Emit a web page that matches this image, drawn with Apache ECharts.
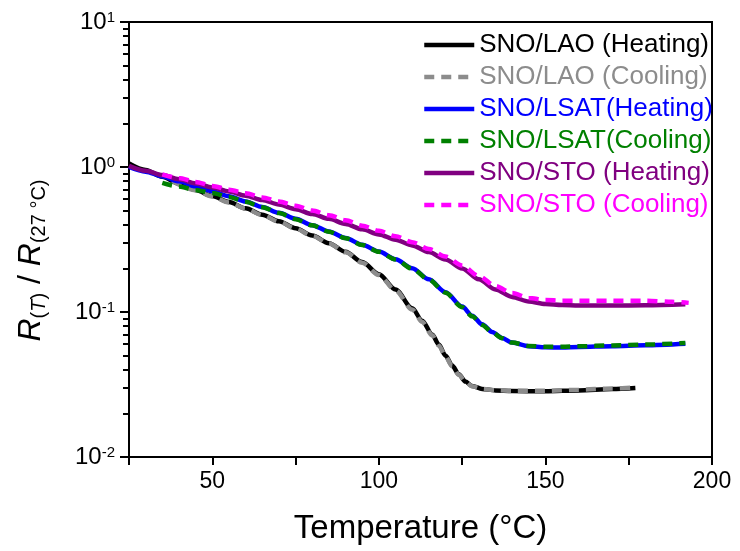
<!DOCTYPE html>
<html><head><meta charset="utf-8">
<script src="https://cdn.jsdelivr.net/npm/echarts@6/dist/echarts.min.js"></script>
<style>html,body{margin:0;padding:0;background:#fff}#c{width:740px;height:551px}</style>
</head><body><div id="c"></div>
<script>
// ---- data ----
const seriesNames = ['SNO/LAO (Heating)','SNO/LAO (Cooling)','SNO/LSAT(Heating)','SNO/LSAT(Cooling)','SNO/STO (Heating)','SNO/STO (Cooling)'];
const seriesColors = ['#000000','#8c8c8c','#0000ff','#008000','#800080','#ff00ff'];
const seriesDashed = [false,true,false,true,false,true];

const T_LAO_H = [25,30,35,40,45,50,55,60,65,70,75,80,85,90,95,100,105,110,113,116,118,120,122,124,126,128,131,135,140,150,160,170,177];
const R_LAO_H = [1.059,0.955,0.855,0.769,0.695,0.631,0.573,0.519,0.469,0.422,0.378,0.337,0.2985,0.260,0.221,0.182,0.143,0.106,0.0871,0.070,0.0596,0.0501,0.0427,0.0372,0.0331,0.0309,0.0295,0.0288,0.0285,0.0284,0.0288,0.0294,0.0299];

const T_LAO_C = [38,45,50,55,60,65,70,75,80,85,90,95,100,105,110,113,116,118,120,122,124,126,128,131,135,140,150,160,170,177];
const R_LAO_C = [0.80,0.69,0.627,0.57,0.516,0.466,0.42,0.376,0.335,0.297,0.258,0.219,0.180,0.141,0.104,0.0855,0.069,0.0588,0.0495,0.0423,0.0369,0.0330,0.0308,0.0295,0.0289,0.0286,0.0286,0.0291,0.0297,0.0302];

const T_LSAT_H = [25,30,35,40,45,50,55,60,65,70,75,80,85,90,95,100,105,110,115,120,125,128,131,134,137,140,145,150,155,160,170,180,192];
const R_LSAT_H = [1.0,0.929,0.861,0.796,0.736,0.681,0.628,0.578,0.530,0.483,0.439,0.397,0.359,0.324,0.291,0.261,0.231,0.200,0.168,0.137,0.109,0.0944,0.0822,0.0729,0.0662,0.0615,0.0581,0.0571,0.0569,0.0574,0.0581,0.0589,0.0603];

const T_LSAT_C = [35,40,45,50,55,60,65,70,75,80,85,90,95,100,105,110,115,120,125,128,131,134,137,140,145,150,155,160,170,180,192];
const R_LSAT_C = [0.776,0.733,0.695,0.661,0.621,0.575,0.528,0.481,0.437,0.396,0.358,0.323,0.290,0.260,0.230,0.199,0.167,0.136,0.108,0.0935,0.0815,0.0725,0.066,0.0615,0.0583,0.0575,0.0575,0.058,0.0588,0.0596,0.0612];

const T_STO_H = [25,30,35,40,45,50,55,60,65,70,75,80,85,90,95,100,105,110,115,120,125,130,135,140,145,150,155,160,170,180,192];
const R_STO_H = [1.019,0.942,0.879,0.822,0.771,0.723,0.678,0.634,0.592,0.551,0.512,0.474,0.439,0.405,0.372,0.343,0.315,0.288,0.259,0.230,0.1995,0.168,0.143,0.127,0.118,0.1135,0.1117,0.1109,0.1107,0.1114,0.1132];

const T_STO_C = [35,40,45,50,55,60,65,70,75,80,85,90,95,100,105,110,115,120,125,130,135,140,145,150,155,160,170,180,188,193];
const R_STO_C = [0.891,0.839,0.789,0.741,0.698,0.658,0.617,0.578,0.540,0.501,0.465,0.429,0.394,0.363,0.333,0.303,0.272,0.2415,0.209,0.177,0.151,0.135,0.125,0.121,0.1197,0.1197,0.1197,0.1197,0.1175,0.1156];

const xTickLabels = [50,100,150,200];
const yMinorTickValues = [];
[0.01,0.1,1].forEach(function(d){ for (let m=2;m<=9;m++) yMinorTickValues.push(+(m*d).toPrecision(3)); });

// ---- chart ----
const FONT = 'Liberation Sans, Arial, sans-serif';
const allT = [T_LAO_H,T_LAO_C,T_LSAT_H,T_LSAT_C,T_STO_H,T_STO_C];
const allR = [R_LAO_H,R_LAO_C,R_LSAT_H,R_LSAT_C,R_STO_H,R_STO_C];

const lineSeries = seriesNames.map(function(name,i){
  return {
    name: name, type: 'line', yAxisIndex: 0, symbol: 'none', showSymbol: false, smooth: 0.3, smoothMonotone: 'x',
    data: allT[i].map(function(t,j){ return [t, allR[i][j]]; }),
    lineStyle: {color: seriesColors[i], width: 4.5, type: seriesDashed[i] ? [10,7] : 'solid'},
    itemStyle: {color: seriesColors[i]},
    z: 3 + i
  };
});

const chart = echarts.init(document.getElementById('c'), null, {renderer:'canvas'});
chart.setOption({
  animation: false,
  backgroundColor: '#fff',
  textStyle: {fontFamily: FONT},
  grid: {left: 129, right: 28, top: 22, bottom: 94, show: true, borderColor: '#000', borderWidth: 2, backgroundColor: 'transparent'},
  legend: {
    orient: 'vertical', left: 417, top: 27, itemWidth: 50, itemHeight: 14, itemGap: 6,
    itemStyle: {opacity: 0},
    lineStyle: {width: 4.5},
    textStyle: {fontSize: 26, lineHeight: 26, fontFamily: FONT},
    data: seriesNames.map(function(n,i){ return {name: n, textStyle: {color: seriesColors[i]}}; })
  },
  xAxis: {
    type: 'value', min: 25, max: 200, interval: 25,
    name: 'Temperature (°C)', nameLocation: 'middle', nameGap: 55,
    nameTextStyle: {fontSize: 33, color: '#000', fontFamily: FONT},
    axisLine: {show: true, lineStyle: {color: '#000', width: 2}},
    axisTick: {show: true, length: 8, lineStyle: {color: '#000', width: 2}},
    splitLine: {show: false},
    axisLabel: {fontSize: 23, color: '#000', margin: 13, fontFamily: FONT,
      formatter: function(v){ return xTickLabels.indexOf(v) >= 0 ? String(v) : ''; }}
  },
  yAxis: [{
    type: 'log', logBase: 10, min: 0.01, max: 10,
    name: '{ri|R}{sub|(}{subi|T}{sub|)}{sl| / }{ri|R}{sub|(27 °C)}',
    nameLocation: 'middle', nameRotate: 90, nameGap: 80,
    nameTextStyle: {
      color: '#000', fontFamily: FONT, padding: [0, 42, 0, 0],
      rich: {
        ri: {fontSize: 32, fontStyle: 'italic', fontFamily: FONT, lineHeight: 34, verticalAlign: 'top', padding: [0,0,15,0]},
        sl: {fontSize: 32, fontFamily: FONT, lineHeight: 34, verticalAlign: 'top'},
        sub: {fontSize: 20, fontFamily: FONT, lineHeight: 22, verticalAlign: 'bottom'},
        subi: {fontSize: 20, fontStyle: 'italic', fontFamily: FONT, lineHeight: 22, verticalAlign: 'bottom'}
      }
    },
    axisLine: {show: true, lineStyle: {color: '#000', width: 2}},
    axisTick: {show: true, length: 9, lineStyle: {color: '#000', width: 2}},
    minorTick: {show: false},
    splitLine: {show: false},
    axisLabel: {
      margin: 14, color: '#000',
      formatter: function(v){ return '{a|10}{b|' + Math.round(Math.log10(v)) + '}'; },
      rich: {
        a: {fontSize: 24, fontFamily: FONT, lineHeight: 24, padding: [6,0,0,0], verticalAlign: 'bottom', color: '#000'},
        b: {fontSize: 15, fontFamily: FONT, lineHeight: 15, verticalAlign: 'top', color: '#000'}
      }
    }
  }, {
    type: 'log', logBase: 10, min: 0.01, max: 10, position: 'left', offset: 0,
    axisLine: {show: false},
    axisLabel: {show: false},
    splitLine: {show: false},
    axisTick: {show: true, length: 6, customValues: yMinorTickValues, lineStyle: {color: '#000', width: 2}}
  }],
  series: lineSeries
});
</script></body></html>
